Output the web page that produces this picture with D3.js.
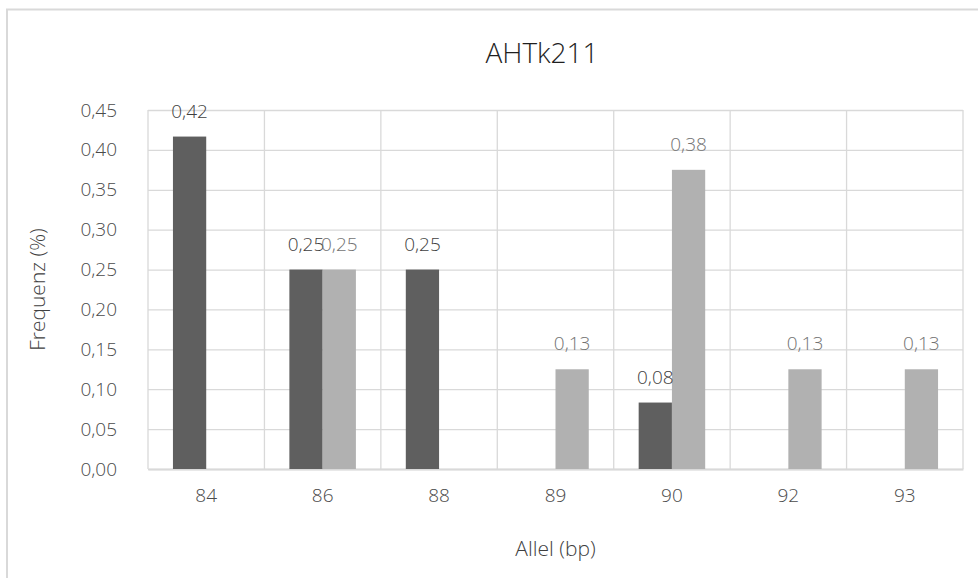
<!DOCTYPE html>
<html>
<head>
<meta charset="utf-8">
<script src="https://cdn.jsdelivr.net/npm/d3@7"></script>
<style>
  html, body { margin: 0; padding: 0; background: #ffffff; }
  svg { display: block; }
  text { font-family: "Open Sans", "Noto Sans", sans-serif; font-weight: 350; }
</style>
</head>
<body>
<svg id="chart" width="978" height="578"></svg>
<script>
const chartTitle = "AHTk211";
const categories = ["84", "86", "88", "89", "90", "92", "93"];
const seriesNames = ["Serie 1", "Serie 2"];
const series1 = [0.4167, 0.25, 0.25, 0, 0.0833, 0, 0];
const series2 = [0, 0.25, 0, 0.125, 0.375, 0.125, 0.125];
const yTicks = [0, 0.05, 0.10, 0.15, 0.20, 0.25, 0.30, 0.35, 0.40, 0.45];
const xAxisTitle = "Allel (bp)";
const yAxisTitle = "Frequenz (%)";

const W = 978, H = 578;
const plot = { left: 148, top: 110, right: 963, bottom: 469 };
const colors = ["#5f5f5f", "#b1b1b1"];
const labelColors = ["#3f3f3f", "#737373"];
const fmt = v => v.toFixed(2).replace(".", ",");

const svg = d3.select("#chart");

// chart area border
svg.append("rect")
  .attr("x", 7).attr("y", 9.5).attr("width", 1200).attr("height", 700)
  .attr("fill", "#ffffff").attr("stroke", "#d9d9d9").attr("stroke-width", 2);

const x = d3.scaleBand().domain(categories).range([plot.left, plot.right]).padding(0);
const y = d3.scaleLinear().domain([0, 0.45]).range([plot.bottom, plot.top]);

const step = x.bandwidth();
const barW = step / 3.5; // gap width 150%
const xs = d3.scaleBand().domain(seriesNames)
  .range([step / 2 - barW, step / 2 + barW]).padding(0);

// horizontal gridlines
svg.append("g")
  .attr("transform", `translate(${plot.left},0)`)
  .call(d3.axisLeft(y).tickValues(yTicks).tickSize(-(plot.right - plot.left)).tickFormat(""))
  .call(g => g.select(".domain").remove())
  .call(g => g.selectAll("line").attr("stroke", "#d9d9d9").attr("stroke-width", 1.3));

// vertical gridlines at category boundaries
const bounds = categories.map(c => x(c)).concat([x(categories[categories.length - 1]) + step]);
svg.append("g").selectAll("line").data(bounds).join("line")
  .attr("x1", d => d).attr("x2", d => d)
  .attr("y1", plot.top).attr("y2", plot.bottom)
  .attr("stroke", "#d9d9d9").attr("stroke-width", 1.3);

// y tick labels
const yAxis = svg.append("g")
  .attr("transform", `translate(${plot.left},0)`)
  .call(d3.axisLeft(y).tickValues(yTicks).tickSize(0).tickPadding(31).tickFormat(fmt));
yAxis.select(".domain").remove();
yAxis.selectAll("text").attr("fill", "#4a4a4a").style("font-size", "19px")
  .style("font-family", "'Open Sans', sans-serif").style("font-weight", 350);

// x axis
const xAxis = svg.append("g")
  .attr("transform", `translate(0,${plot.bottom})`)
  .call(d3.axisBottom(x).tickSize(0).tickPadding(20));
xAxis.select(".domain").attr("stroke", "#d9d9d9").attr("stroke-width", 2);
xAxis.selectAll("text").attr("fill", "#4a4a4a").style("font-size", "19px")
  .style("font-family", "'Open Sans', sans-serif").style("font-weight", 350);

// bars
const data = [];
categories.forEach((c, i) => {
  data.push({ cat: c, s: seriesNames[0], v: series1[i], k: 0 });
  data.push({ cat: c, s: seriesNames[1], v: series2[i], k: 1 });
});

svg.append("g").selectAll("rect").data(data.filter(d => d.v > 0)).join("rect")
  .attr("x", d => x(d.cat) + xs(d.s))
  .attr("y", d => y(d.v))
  .attr("width", xs.bandwidth())
  .attr("height", d => y(0) - y(d.v))
  .attr("fill", d => colors[d.k]);

// data labels
svg.append("g").selectAll("text").data(data.filter(d => d.v > 0)).join("text")
  .attr("x", d => x(d.cat) + xs(d.s) + xs.bandwidth() / 2)
  .attr("y", d => y(d.v) - 19)
  .attr("text-anchor", "middle")
  .attr("fill", d => labelColors[d.k])
  .style("font-size", "19px")
  .text(d => fmt(d.v));

// title
svg.append("text")
  .attr("x", 542).attr("y", 63)
  .attr("text-anchor", "middle")
  .attr("fill", "#1f1f1f")
  .style("font-size", "28px")
  .style("font-weight", 300)
  .text(chartTitle);

// axis titles
svg.append("text")
  .attr("x", (plot.left + plot.right) / 2).attr("y", 556)
  .attr("text-anchor", "middle")
  .attr("fill", "#3f3f3f")
  .style("font-size", "21px")
  .text(xAxisTitle);

svg.append("text")
  .attr("transform", `translate(45,${(plot.top + plot.bottom) / 2}) rotate(-90)`)
  .attr("text-anchor", "middle")
  .attr("fill", "#3f3f3f")
  .style("font-size", "21px")
  .text(yAxisTitle);
</script>
</body>
</html>
